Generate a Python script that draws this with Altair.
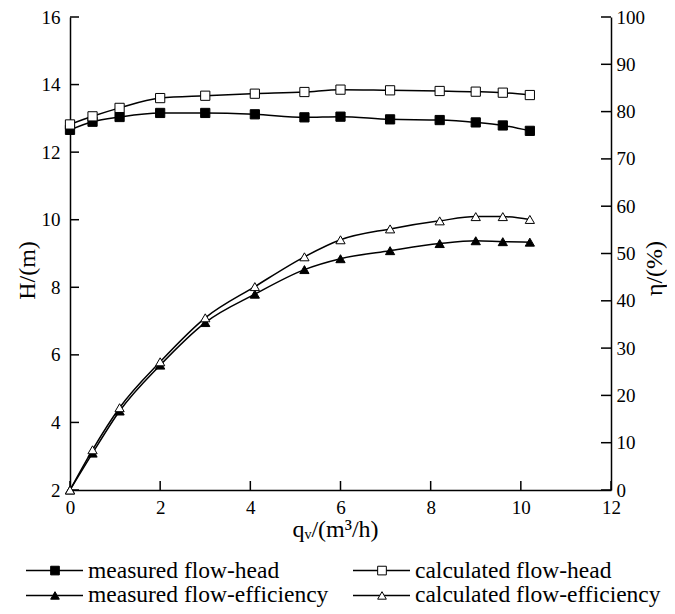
import altair as alt
import pandas as pd

# ---------------- data ----------------
series = ["measured flow-head", "calculated flow-head",
          "measured flow-efficiency", "calculated flow-efficiency"]

q = [0, 0.5, 1.1, 2.0, 3.0, 4.1, 5.2, 6.0, 7.1, 8.2, 9.0, 9.6, 10.2]
head_measured = [12.66, 12.9, 13.04, 13.16, 13.16, 13.12, 13.03, 13.05, 12.97, 12.95, 12.88, 12.79, 12.63]
head_calculated = [12.82, 13.06, 13.31, 13.6, 13.67, 13.73, 13.78, 13.85, 13.83, 13.81, 13.79, 13.76, 13.69]
eff_measured = [0, 7.8, 16.7, 26.4, 35.4, 41.4, 46.6, 48.9, 50.6, 52.1, 52.7, 52.5, 52.4]
eff_calculated = [0, 8.5, 17.4, 27.1, 36.4, 43.0, 49.3, 52.9, 55.2, 56.9, 57.8, 57.8, 57.2]

x_ticks = [0, 2, 4, 6, 8, 10, 12]
h_ticks = [2, 4, 6, 8, 10, 12, 14, 16]
eff_ticks = [0, 10, 20, 30, 40, 50, 60, 70, 80, 90, 100]

# ---------------- layout / style ----------------
FONT = "Liberation Serif"
W, H = 541, 473
LBL = 19
TTL = 24

n = len(q)
head_df = pd.DataFrame({"q": q * 2, "v": head_measured + head_calculated,
                        "series": [series[0]] * n + [series[1]] * n})
eff_df = pd.DataFrame({"q": q * 2, "v": eff_measured + eff_calculated,
                       "series": [series[2]] * n + [series[3]] * n})

shape_scale = alt.Scale(domain=series, range=["square", "square", "triangle-up", "triangle-up"])
fill_scale = alt.Scale(domain=series, range=["black", "white", "black", "white"])
size_scale = alt.Scale(domain=series, range=[85, 85, 130, 130])

axis_common = dict(ticks=False, grid=False, domainColor="black", domainWidth=1.5,
                   labelFont=FONT, titleFont=FONT, labelFontSize=LBL, titleFontSize=TTL,
                   labelColor="black", titleColor="black", titleFontWeight="normal")

x_axis = alt.Axis(values=x_ticks, labelPadding=8, labelFlush=False, title="qᵥ/(m³/h)",
                  titlePadding=0, titleX=265, **axis_common)
left_axis = alt.Axis(values=h_ticks, orient="left", labelPadding=10, title="H/(m)",
                     titlePadding=2, titleY=253, **axis_common)
right_axis = alt.Axis(values=eff_ticks, orient="right", labelPadding=5, title="η/(%)",
                      titlePadding=-2, titleAngle=270, titleBaseline="top", titleY=251, **axis_common)

x_scale = alt.Scale(domain=[0, 12], nice=False)
h_scale = alt.Scale(domain=[2, 16], nice=False)
e_scale = alt.Scale(domain=[0, 100], nice=False)


def x_enc(field="q"):
    return alt.X(f"{field}:Q", scale=x_scale, axis=x_axis)


# ---- head group (left axis) ----
yh = alt.Y("v:Q", scale=h_scale, axis=left_axis)
head_line = alt.Chart(head_df).mark_line(interpolate="monotone", color="black", strokeWidth=1.5).encode(
    x=x_enc(), y=yh, detail="series:N")
head_pts = alt.Chart(head_df).mark_point(filled=True, stroke="black", strokeWidth=1, opacity=1).encode(
    x=x_enc(), y=yh,
    shape=alt.Shape("series:N", scale=shape_scale, legend=None),
    fill=alt.Fill("series:N", scale=fill_scale, legend=None),
    size=alt.Size("series:N", scale=size_scale, legend=None))
h_tick_layer = alt.Chart(pd.DataFrame({"v": h_ticks})).mark_rule(color="black", strokeWidth=1.5).encode(
    y=yh, x=alt.value(0), x2=alt.value(9))
x_tick_layer = alt.Chart(pd.DataFrame({"q": x_ticks})).mark_rule(color="black", strokeWidth=1.5).encode(
    x=x_enc(), y=alt.value(H), y2=alt.value(H - 9))
head_group = alt.layer(head_line, head_pts, h_tick_layer, x_tick_layer)

# ---- efficiency group (right axis) ----
ye = alt.Y("v:Q", scale=e_scale, axis=right_axis)
eff_line = alt.Chart(eff_df).mark_line(interpolate="monotone", color="black", strokeWidth=1.5).encode(
    x=x_enc(), y=ye, detail="series:N")
eff_pts = alt.Chart(eff_df).mark_point(filled=True, stroke="black", strokeWidth=1, opacity=1).encode(
    x=x_enc(), y=ye,
    shape=alt.Shape("series:N", scale=shape_scale, legend=None),
    fill=alt.Fill("series:N", scale=fill_scale, legend=None),
    size=alt.Size("series:N", scale=size_scale, legend=None))
e_tick_layer = alt.Chart(pd.DataFrame({"v": eff_ticks})).mark_rule(color="black", strokeWidth=1.5).encode(
    y=ye, x=alt.value(W - 10), x2=alt.value(W))
eff_group = alt.layer(eff_line, eff_pts, e_tick_layer)

main = alt.layer(head_group, eff_group).resolve_scale(
    y="independent", shape="independent", fill="independent", size="independent"
).properties(width=W, height=H)

# ---- manual legend (two columns, two rows) ----
LH = 44
leg_df = pd.DataFrame({"series": series, "col": [0, 1, 0, 1], "row": [0, 0, 1, 1]})
lx = alt.Scale(domain=[0, W], nice=False)
ly = alt.Scale(domain=[-10 / 26, 36 / 26], reverse=True, nice=False)
leg_base = alt.Chart(leg_df).transform_calculate(
    x0="datum.col * 327 - 44", x1="datum.col * 327 + 13",
    xm="datum.col * 327 - 15", xt="datum.col * 327 + 18")
leg_rule = leg_base.mark_rule(color="black", strokeWidth=1.5).encode(
    x=alt.X("x0:Q", scale=lx, axis=None), x2="x1:Q",
    y=alt.Y("row:Q", scale=ly, axis=None))
leg_pts = leg_base.mark_point(filled=True, stroke="black", strokeWidth=1, opacity=1).encode(
    x=alt.X("xm:Q", scale=lx, axis=None), y=alt.Y("row:Q", scale=ly, axis=None),
    shape=alt.Shape("series:N", scale=shape_scale, legend=None),
    fill=alt.Fill("series:N", scale=fill_scale, legend=None),
    size=alt.Size("series:N", scale=alt.Scale(domain=series, range=[75, 75, 110, 110]), legend=None))
leg_text = leg_base.mark_text(align="left", baseline="middle", font=FONT, fontSize=23.5, color="black").encode(
    x=alt.X("xt:Q", scale=lx, axis=None), y=alt.Y("row:Q", scale=ly, axis=None), text="series:N")
legend = alt.layer(leg_rule, leg_pts, leg_text).properties(width=W, height=LH)

chart = alt.vconcat(main, legend, spacing=17).properties(
    padding={"left": 7, "top": 0, "right": 0, "bottom": 0}
).configure(font=FONT).configure_view(stroke=None)

chart.save("out.html", embed_options={"renderer": "svg", "actions": False})
